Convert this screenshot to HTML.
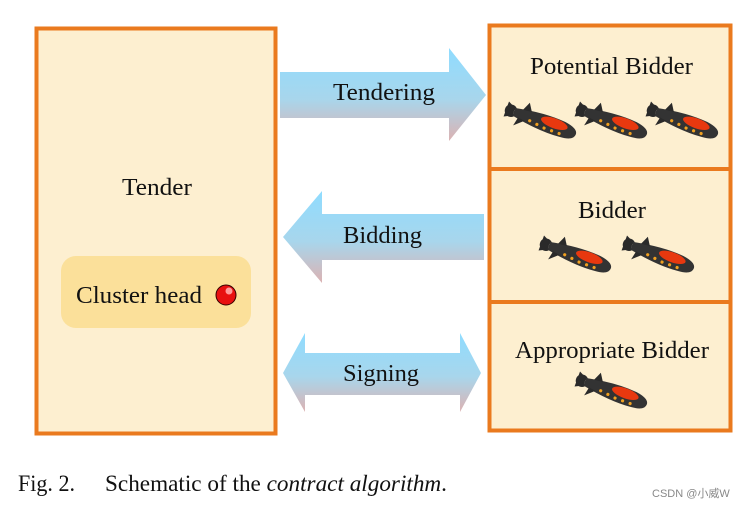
<!DOCTYPE html>
<html><head><meta charset="utf-8"><style>
html,body{margin:0;padding:0;background:#fff;}
svg{display:block;}
text{font-family:"Liberation Serif",serif;fill:#111;}
</style></head><body>
<svg width="753" height="508" viewBox="0 0 753 508" xmlns="http://www.w3.org/2000/svg">
<defs>
<linearGradient id="g" x1="0" y1="0" x2="0" y2="1">
<stop offset="0" stop-color="#8fdcff"/><stop offset="0.55" stop-color="#a8d6ec"/><stop offset="1" stop-color="#dcb2b2"/>
</linearGradient>
<g id="sub">
<g transform="rotate(20)">
<circle cx="-33" cy="0" r="5" fill="none" stroke="#2a2a2a" stroke-width="2.5"/>
<path d="M-30,-4 L-38,-8 L-38,8 L-30,4 Z" fill="#2a2a2a"/>
<path d="M-30,-4 Q0,-10 22,-8 Q36,-6 36,0 Q36,7 22,8 Q0,10 -30,4 Z" fill="#333"/>
<ellipse cx="12" cy="-3" rx="14" ry="5" fill="#e8380f"/>
<path d="M-22,-5 L-18,-14 L-13,-6 Z" fill="#2a2a2a"/>
<path d="M-24,4 L-26,13 L-17,5 Z" fill="#2a2a2a"/>
<circle cx="-12" cy="3" r="1.6" fill="#f0a020"/><circle cx="-4" cy="4" r="1.6" fill="#f0a020"/>
<circle cx="4" cy="5" r="1.6" fill="#f0a020"/><circle cx="12" cy="5" r="1.6" fill="#f0a020"/><circle cx="20" cy="5" r="1.6" fill="#f0a020"/>
</g>
</g>
</defs>
<rect x="0" y="0" width="753" height="508" fill="#fff"/>
<rect x="36.5" y="28.5" width="239" height="405" fill="#fdefd0" stroke="#ea7a1e" stroke-width="4"/>
<text x="122" y="195" font-size="24" textLength="70" lengthAdjust="spacingAndGlyphs">Tender</text>
<rect x="61" y="256" width="190" height="72" rx="15" fill="#fbe09a"/>
<text x="76" y="303" font-size="24" textLength="126" lengthAdjust="spacingAndGlyphs">Cluster head</text>
<circle cx="226" cy="295" r="10" fill="#e81010" stroke="#300" stroke-width="1"/>
<circle cx="229" cy="291" r="3.5" fill="#ff9a9a"/>
<rect x="489.5" y="25.5" width="241" height="405" fill="#fdefd0" stroke="#ea7a1e" stroke-width="4"/>
<line x1="489" y1="169" x2="731" y2="169" stroke="#ea7a1e" stroke-width="4"/>
<line x1="489" y1="302" x2="731" y2="302" stroke="#ea7a1e" stroke-width="4"/>
<text x="530" y="74" font-size="24" textLength="163" lengthAdjust="spacingAndGlyphs">Potential Bidder</text>
<text x="578" y="218" font-size="24" textLength="68" lengthAdjust="spacingAndGlyphs">Bidder</text>
<text x="515" y="358" font-size="24" textLength="194" lengthAdjust="spacingAndGlyphs">Appropriate Bidder</text>
<use href="#sub" x="542" y="122"/><use href="#sub" x="613" y="122"/><use href="#sub" x="684" y="122"/>
<use href="#sub" x="577" y="256"/><use href="#sub" x="660" y="256"/>
<use href="#sub" x="613" y="392"/>
<path d="M280,72 L449,72 L449,48 L486,95 L449,141 L449,118 L280,118 Z" fill="url(#g)"/>
<text x="333" y="100" font-size="24" textLength="102" lengthAdjust="spacingAndGlyphs">Tendering</text>
<path d="M484,214 L322,214 L322,191 L283,237 L322,283 L322,260 L484,260 Z" fill="url(#g)"/>
<text x="343" y="243" font-size="24" textLength="79" lengthAdjust="spacingAndGlyphs">Bidding</text>
<path d="M283,373 L305,333 L305,353 L460,353 L460,333 L481,373 L460,412 L460,395 L305,395 L305,412 Z" fill="url(#g)"/>
<text x="343" y="381" font-size="24" textLength="76" lengthAdjust="spacingAndGlyphs">Signing</text>
<text x="18" y="491" font-size="23" textLength="57" lengthAdjust="spacingAndGlyphs">Fig. 2.</text>
<text x="105" y="491" font-size="23" textLength="342" lengthAdjust="spacingAndGlyphs">Schematic of the <tspan font-style="italic">contract algorithm</tspan>.</text>
<text x="652" y="497" font-size="11" style="font-family:'Liberation Sans','Noto Sans CJK SC',sans-serif;fill:#888">CSDN @小威W</text>
</svg>
</body></html>
